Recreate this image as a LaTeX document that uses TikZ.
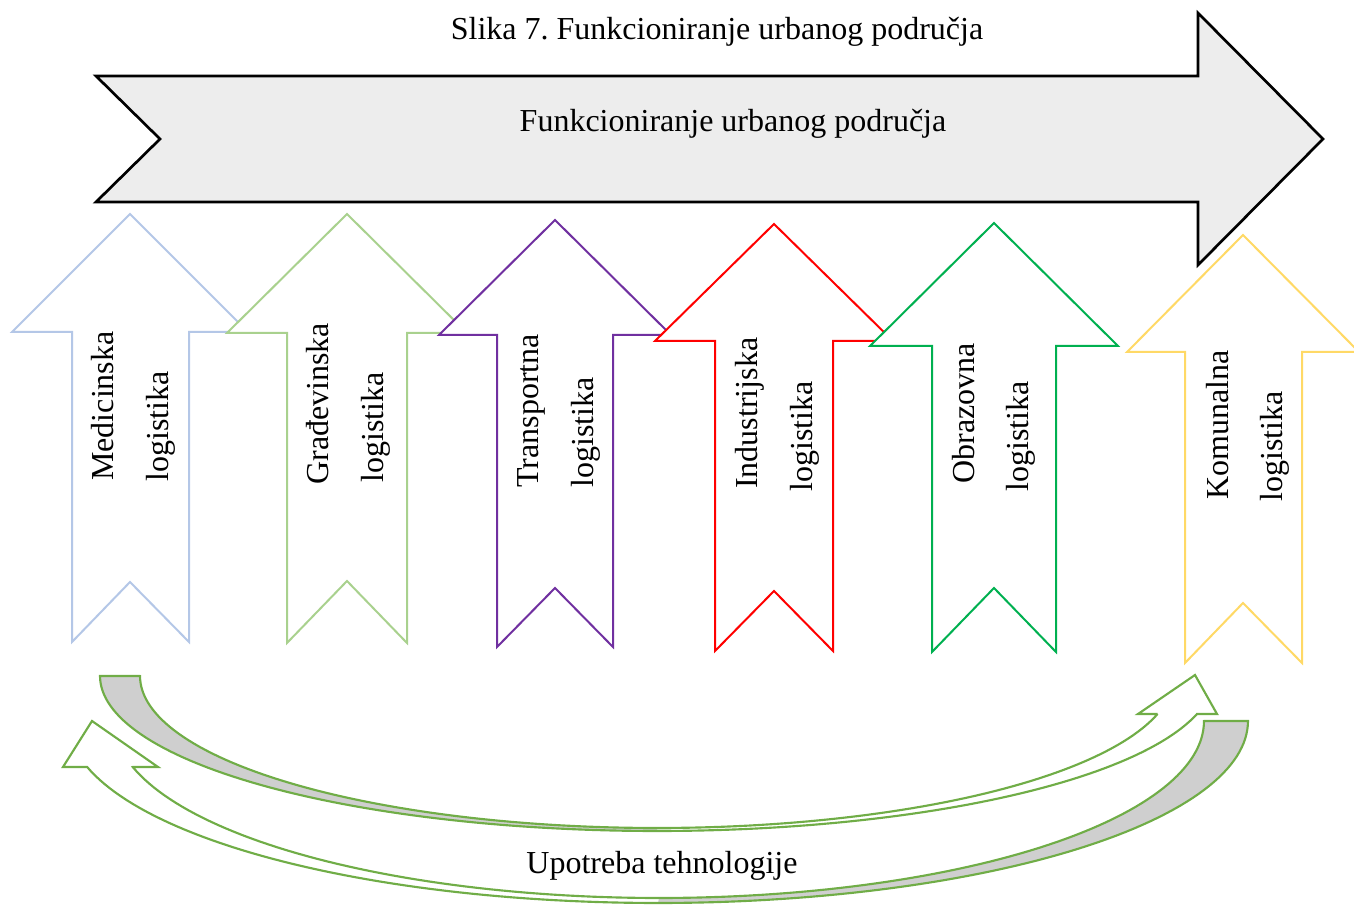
\documentclass[tikz,border=0pt]{standalone}
\usepackage{fontspec}
\setmainfont{Liberation Serif}
\frenchspacing
\definecolor{bigfill}{HTML}{EDEDED}
\definecolor{cmed}{HTML}{B4C7E7}
\definecolor{cgra}{HTML}{A9D18E}
\definecolor{ctra}{HTML}{7030A0}
\definecolor{cind}{HTML}{FF0000}
\definecolor{cobr}{HTML}{00B050}
\definecolor{ckom}{HTML}{FFD966}
\definecolor{cgreen}{HTML}{70AD47}
\definecolor{cgray}{HTML}{CFCFCF}
\tikzset{
  lbl/.style={inner sep=0pt, font=\fontsize{24}{28}\selectfont},
  vlbl/.style={lbl, rotate=90, anchor=base west},
  uparr/.style={fill=white, line width=1.5pt, line join=miter},
  curv/.style={draw=cgreen, line width=1.6pt, line join=miter},
}
% #1 colour, #2 tip x, #3 tip y, #4 head left, #5 shaft left, #6 shaft right, #7 head right, #8 head base y, #9 bottom y; notch via \notchy
\newcommand\logarrow[9]{%
  \draw[uparr, draw=#1] (#2,#3) -- (#7,#8) -- (#6,#8) -- (#6,#9) -- (#2,\notchy) -- (#5,#9) -- (#5,#8) -- (#4,#8) -- cycle;}
\begin{document}
\begin{tikzpicture}[x=0.75pt, y=-0.75pt]
\useasboundingbox (0,0) rectangle (1354,905);
\clip (0,0) rectangle (1354,905);

% title
\node[lbl, anchor=base] (title) at (717,40) {Slika 7. Funkcioniranje urbanog područja};

% big arrow
\draw[fill=bigfill, draw=black, line width=2pt, line join=miter]
  (96,76) -- (1198,76) -- (1198,13) -- (1323,139) -- (1198,265) -- (1198,202) -- (96,202) -- (160,139) -- cycle;
\node[lbl, anchor=base] (main) at (733,132) {Funkcioniranje urbanog područja};

% up arrows
\def\notchy{582}\logarrow{cmed}{130}{214}{12}{72}{189}{248}{332}{642}
\def\notchy{581}\logarrow{cgra}{347}{214}{227}{287}{407}{467}{333}{643}
\def\notchy{588}\logarrow{ctra}{555}{220}{439}{497}{613}{671}{335}{647}
\def\notchy{591}\logarrow{cind}{774}{224}{655}{715}{833}{893}{341}{651}
\def\notchy{588}\logarrow{cobr}{994}{223}{870}{932}{1056}{1118}{346}{652}
\def\notchy{603}\logarrow{ckom}{1243}{235}{1127}{1185}{1302}{1359}{352}{663}

% labels in arrows
\node[vlbl] (med1) at (113,481) {Medicinska};
\node[vlbl] (med2) at (168,482) {logistika};
\node[vlbl] (gra1) at (328,485) {Građevinska};
\node[vlbl] (gra2) at (383,483) {logistika};
\node[vlbl] (tra1) at (538,488) {Transportna};
\node[vlbl] (tra2) at (593,488) {logistika};
\node[vlbl] (ind1) at (757,489) {Industrijska};
\node[vlbl] (ind2) at (812,492) {logistika};
\node[vlbl] (obr1) at (974,484) {Obrazovna};
\node[vlbl] (obr2) at (1028,492) {logistika};
\node[vlbl] (kom1) at (1228,500) {Komunalna};
\node[vlbl] (kom2) at (1282,502) {logistika};

% curved arrow A (to the right)
\fill[cgray] (100,676) -- plot[domain=180:90, samples=60] ({657+557*cos(\x)},{676+155*sin(\x)})
  -- plot[domain=90:180, samples=60] ({657+517*cos(\x)},{676+152*sin(\x)}) -- cycle;
\draw[curv] (140,676) -- (100,676)
  -- plot[domain=180:14.2, samples=120] ({657+557*cos(\x)},{676+155*sin(\x)})
  -- (1217,714) -- (1195,675) -- (1138,714) -- (1157.6,714)
  -- plot[domain=14.48:180, samples=120] ({657+517*cos(\x)},{676+152*sin(\x)}) -- cycle;

% curved arrow B (to the left)
\fill[cgray] (1248,721) -- plot[domain=0:90, samples=60] ({658+590*cos(\x)},{721+182*sin(\x)})
  -- plot[domain=90:0, samples=60] ({659+545*cos(\x)},{721+177*sin(\x)}) -- cycle;
\draw[curv] (1204,721) -- (1248,721)
  -- plot[domain=0:165.36, samples=120] ({658+590*cos(\x)},{721+182*sin(\x)})
  -- (63,767) -- (92,721) -- (158,767) -- (132.8,767)
  -- plot[domain=164.93:0, samples=120] ({659+545*cos(\x)},{721+177*sin(\x)}) -- cycle;

\node[lbl, anchor=base] (tech) at (662,873) {Upotreba tehnologije};
\end{tikzpicture}
\end{document}
